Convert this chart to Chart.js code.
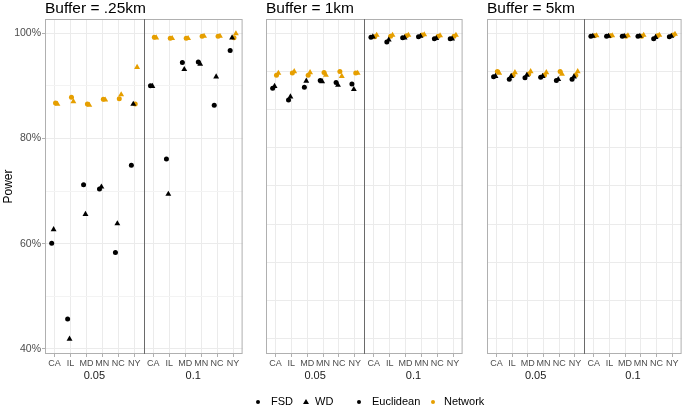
<!DOCTYPE html>
<html>
<head>
<meta charset="utf-8">
<script src="https://cdn.jsdelivr.net/npm/chart.js@4.4.1/dist/chart.umd.min.js"></script>
<style>
    body { margin: 0; background: #fff; }
    #wrap { position: relative; width: 685px; height: 406px; overflow: hidden;
            font-family: "Liberation Sans", Arial, sans-serif; }
    canvas { position: absolute; top: 0; }
    .lg-txt { position: absolute; top: 395px; font-size: 11px; line-height: 13px; color: #000; white-space: nowrap; }
    .lg-dot { position: absolute; width: 4px; height: 4px; border-radius: 50%; }
    .lg-tri { position: absolute; width: 0; height: 0; border-left: 3px solid transparent;
              border-right: 3px solid transparent; border-bottom: 5px solid #000; }
</style>
</head>
<body>
<div id="wrap">
    <canvas id="p1" width="246" height="406" style="left:0px"></canvas>
    <canvas id="p2" width="220" height="406" style="left:246px"></canvas>
    <canvas id="p3" width="219" height="406" style="left:466px"></canvas>

    <span class="lg-dot" style="left:256px; top:400px; background:#000"></span>
    <span class="lg-txt" style="left:271px">FSD</span>
    <span class="lg-tri" style="left:303px; top:399px"></span>
    <span class="lg-txt" style="left:315px">WD</span>
    <span class="lg-dot" style="left:357px; top:400px; background:#000"></span>
    <span class="lg-txt" style="left:372px">Euclidean</span>
    <span class="lg-dot" style="left:431px; top:400px; background:#E69F00"></span>
    <span class="lg-txt" style="left:444px">Network</span>
</div>

<script>
/* data: power (%) per state, 0.05 block then 0.1 block */

const states = [ 'CA', 'IL', 'MD', 'MN', 'NC', 'NY' ];
const alphas = [ '0.05', '0.1' ];
const buffers = [ 'Buffer = .25km', 'Buffer = 1km', 'Buffer = 5km' ];

// buffer .25km
const euc_fsd_025 = [ 60.1, 45.7, 71.2, 70.4, 58.3, 74.9,   90.0, 76.1, 94.4, 94.5, 86.3, 96.7 ];
const euc_wd_025  = [ 62.7, 41.9, 65.6, 70.8, 63.8, 86.5,   89.9, 69.4, 93.1, 94.1, 91.7, 99.1 ];
const net_fsd_025 = [ 86.7, 87.8, 86.5, 87.4, 87.5, 86.5,   99.2, 99.0, 99.0, 99.4, 99.4, 99.1 ];
const net_wd_025  = [ 86.5, 87.0, 86.3, 87.3, 88.3, 93.5,   99.1, 99.0, 99.0, 99.4, 99.4, 99.9 ];

// buffer 1km
const euc_fsd_1 = [ 89.5, 87.3, 89.7, 91.0, 90.6, 90.3,   99.2, 98.3, 99.1, 99.3, 98.9, 98.9 ];
const euc_wd_1  = [ 89.9, 87.9, 90.9, 90.8, 90.1, 89.3,   99.3, 98.7, 99.1, 99.4, 99.0, 98.9 ];
const net_fsd_1 = [ 92.0, 92.4, 92.0, 92.5, 92.7, 92.4,   99.3, 99.4, 99.5, 99.6, 99.4, 99.4 ];
const net_wd_1  = [ 92.4, 92.7, 92.5, 92.0, 91.8, 92.4,   99.6, 99.6, 99.6, 99.7, 99.5, 99.6 ];

// buffer 5km
const euc_fsd_5 = [ 91.7, 91.2, 91.5, 91.6, 91.0, 91.2,   99.4, 99.4, 99.4, 99.4, 98.9, 99.3 ];
const euc_wd_5  = [ 91.8, 91.8, 92.0, 91.8, 91.2, 91.7,   99.4, 99.4, 99.4, 99.4, 99.2, 99.4 ];
const net_fsd_5 = [ 92.7, 92.0, 92.2, 92.0, 92.7, 92.0,   99.5, 99.5, 99.4, 99.4, 99.5, 99.6 ];
const net_wd_5  = [ 92.4, 92.5, 92.7, 92.5, 92.2, 92.7,   99.5, 99.5, 99.5, 99.6, 99.6, 99.8 ];

const y_ticks = [ 40, 50, 60, 70, 80, 90, 100 ];

/* layout: each alpha block spans 6.2 units (ggplot discrete expansion) */
const BLOCK = 6.2;
const x_pos = [];
alphas.forEach( (a, g) => states.forEach( (s, i) => x_pos.push( g * BLOCK + i + 1 ) ) );

const FONT = '"Liberation Sans", Arial, sans-serif';
const ORANGE = '#E69F00';

const facetDecor =
{
    id: 'facetDecor',
    afterDraw: function ( chart, args, opts )
    {
        const ctx = chart.ctx;
        const a = chart.chartArea;
        const x = chart.scales.x;
        ctx.save();

        // panel border
        ctx.strokeStyle = '#b0b0b0';
        ctx.lineWidth = 1;
        ctx.strokeRect( a.left + 0.5, a.top + 0.5, a.right - a.left - 1, a.bottom - a.top - 1 );

        // line between the two alpha blocks
        const sx = Math.round( x.getPixelForValue( BLOCK + 0.4 ) ) + 0.5;
        ctx.strokeStyle = '#6a6a6a';
        ctx.beginPath();
        ctx.moveTo( sx, a.top );
        ctx.lineTo( sx, a.bottom );
        ctx.stroke();

        // panel title
        ctx.fillStyle = '#000';
        ctx.font = '15.5px ' + FONT;
        ctx.textAlign = 'left';
        ctx.textBaseline = 'alphabetic';
        ctx.fillText( opts.title, a.left, 13 );

        // alpha labels under the state ticks
        ctx.font = '11px ' + FONT;
        ctx.fillStyle = '#1a1a1a';
        ctx.textAlign = 'center';
        ctx.textBaseline = 'middle';
        alphas.forEach( (g, i) => ctx.fillText( g, x.getPixelForValue( i * BLOCK + 3.5 ), 376 ) );

        ctx.restore();
    }
};

function points ( values, offset )
{
    return values.map( (v, i) => ( { x: x_pos[i] + offset, y: v } ) );
}

function series ( label, values, offset, colour, shape )
{
    return {
        label: label,
        data: points( values, offset ),
        pointStyle: shape,
        pointRadius: shape === 'triangle' ? 3.4 : 2.5,
        pointHoverRadius: 3,
        backgroundColor: colour,
        borderColor: colour,
        borderWidth: 0
    };
}

function panel ( id, idx, sets, padLeft, padRight )
{
    const first = idx === 0;

    const yScale =
    {
        min: 39.05,
        max: 102.66,
        afterBuildTicks: function ( s )
        {
            if ( first )
                s.ticks = y_ticks.map( v => ( { value: v } ) );
            else
            {
                // the two right-hand panels carry their own (unlabelled) grid
                const t = [];
                for ( let k = 0; k <= 8; ++k ) t.push( { value: 100 - k * 7.26 } );
                s.ticks = t;
            }
        },
        ticks:
        {
            display: first,
            callback: v => ( v % 20 === 0 ? v + '%' : '' ),
            color: '#4d4d4d',
            font: { family: FONT, size: 10.5 },
            padding: 1
        },
        grid:
        {
            color: ctx => ( !first || ( ctx.tick && ctx.tick.value % 20 === 0 ) ) ? '#ebebeb' : '#f3f3f3',
            tickColor: ctx => ( ctx.tick && ctx.tick.value % 20 === 0 ) ? '#b0b0b0' : 'rgba(0,0,0,0)',
            drawTicks: first,
            tickLength: 3
        },
        border: { display: false },
        title:
        {
            display: first,
            text: 'Power',
            color: '#000',
            font: { family: FONT, size: 12 },
            padding: { top: 1, bottom: 0 }
        },
        afterFit: function ( s ) { s.width = first ? 45 : 0; }
    };

    const xScale =
    {
        type: 'linear',
        min: 0.4,
        max: 2 * BLOCK + 0.4,
        afterBuildTicks: function ( s ) { s.ticks = x_pos.map( v => ( { value: v } ) ); },
        ticks:
        {
            callback: (v, i) => states[ i % states.length ],
            autoSkip: false,
            maxRotation: 0,
            color: '#4d4d4d',
            font: { family: FONT, size: 9 },
            padding: 1
        },
        grid: { color: '#ebebeb', tickColor: '#b0b0b0', tickLength: 3 },
        border: { display: false },
        afterFit: function ( s ) { s.height = 52; }
    };

    const data =
    {
        datasets: [
            series( 'Euclidean FSD', sets[0], -0.18, '#000', 'circle' ),
            series( 'Euclidean WD',  sets[1], -0.06, '#000', 'triangle' ),
            series( 'Network FSD',   sets[2],  0.06, ORANGE, 'circle' ),
            series( 'Network WD',    sets[3],  0.18, ORANGE, 'triangle' )
        ]
    };

    const options =
    {
        responsive: false,
        animation: false,
        layout: { padding: { left: padLeft, right: padRight, top: 19, bottom: 0 } },
        scales: { x: xScale, y: yScale },
        plugins:
        {
            legend: { display: false },
            tooltip: { enabled: false },
            facetDecor: { title: buffers[idx] }
        }
    };

    return new Chart( document.getElementById( id ), { type: 'scatter', data: data, options: options, plugins: [ facetDecor ] } );
}

panel( 'p1', 0, [ euc_fsd_025, euc_wd_025, net_fsd_025, net_wd_025 ], 0, 3 );
panel( 'p2', 1, [ euc_fsd_1, euc_wd_1, net_fsd_1, net_wd_1 ], 20, 2 );
panel( 'p3', 2, [ euc_fsd_5, euc_wd_5, net_fsd_5, net_wd_5 ], 21, 1 );
</script>
</body>
</html>
